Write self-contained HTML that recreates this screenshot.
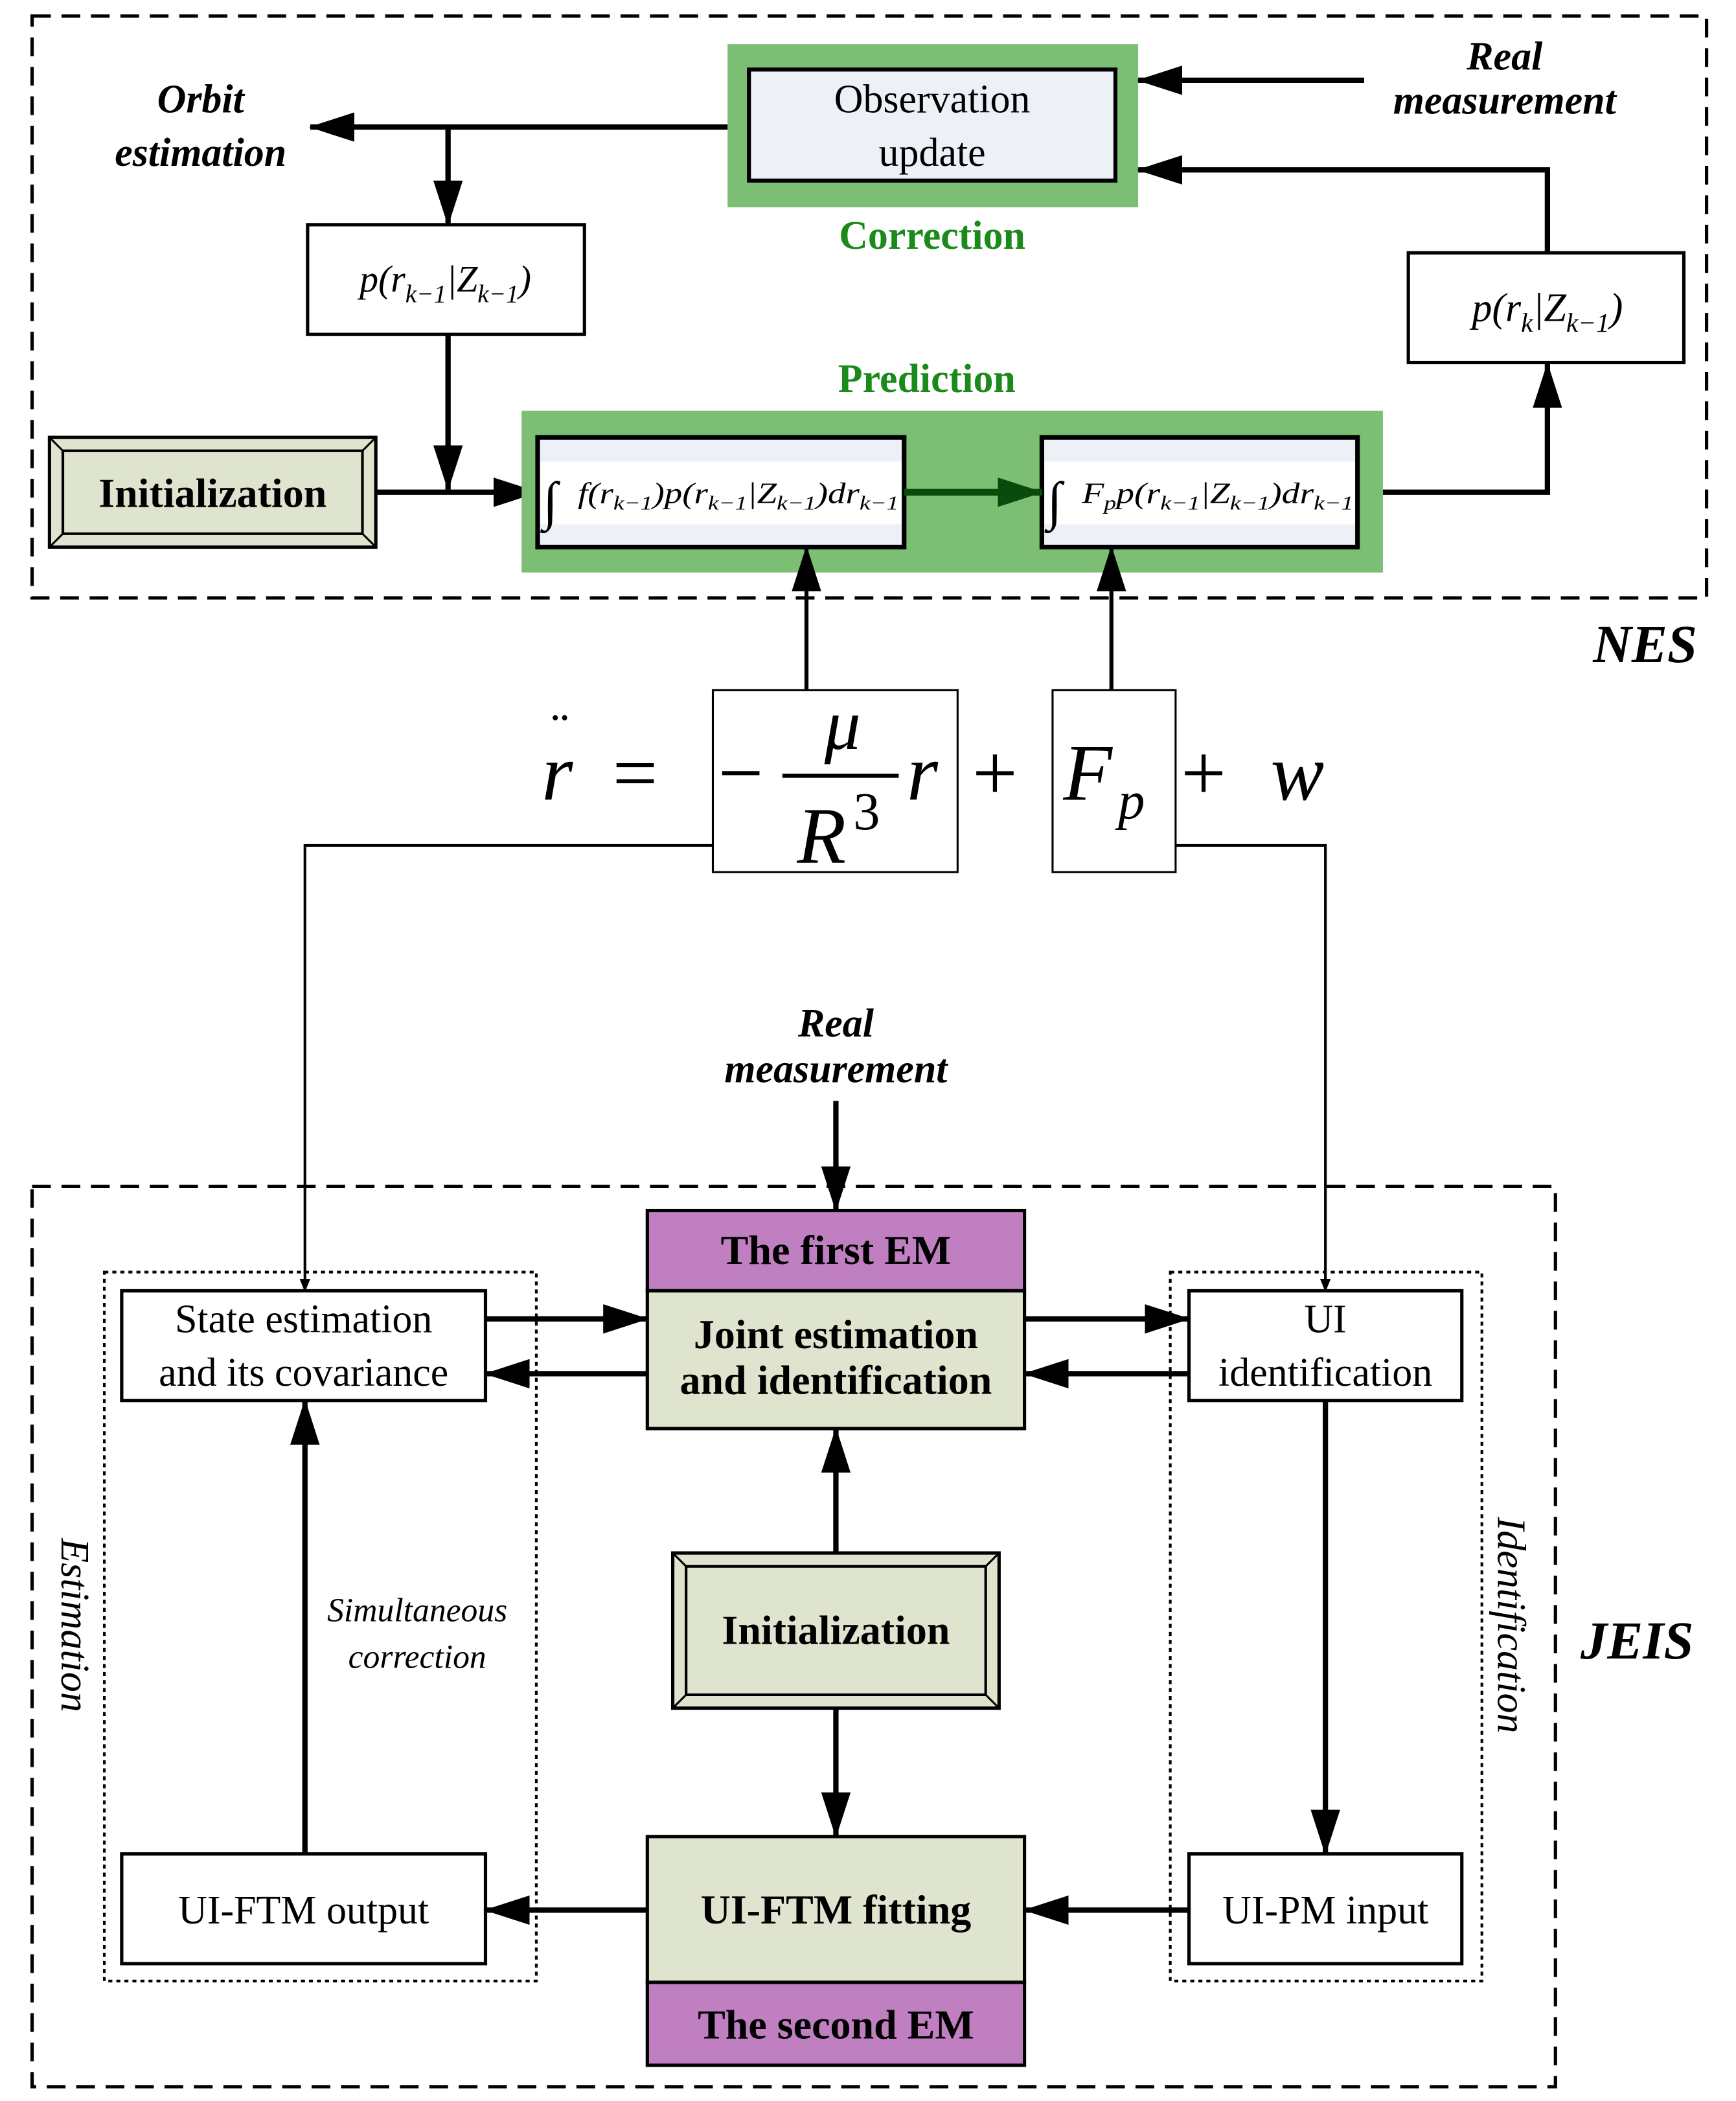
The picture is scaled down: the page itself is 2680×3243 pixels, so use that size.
<!DOCTYPE html>
<html><head><meta charset="utf-8"><style>
html,body{margin:0;padding:0;background:#fff}
svg{display:block}
text{font-family:"Liberation Serif",serif}
</style></head><body>
<svg width="2680" height="3243" viewBox="0 0 1298 1570.7" preserveAspectRatio="none" xmlns="http://www.w3.org/2000/svg">
<defs>
<marker id="a" markerWidth="10" markerHeight="8" refX="9" refY="4" orient="auto" markerUnits="userSpaceOnUse" viewBox="0 0 10 8"><path d="M0,0L10,4L0,8z" fill="#000"/></marker>
<marker id="A" markerWidth="34" markerHeight="22" refX="33" refY="11" orient="auto" markerUnits="userSpaceOnUse"><path d="M0,0L34,11L0,22z" fill="#000"/></marker>
<marker id="G" markerWidth="34" markerHeight="22" refX="33" refY="11" orient="auto" markerUnits="userSpaceOnUse"><path d="M0,0L34,11L0,22z" fill="#0a4a0a"/></marker>
</defs>
<rect width="1298" height="1571" fill="#fff"/>
<!-- NES -->
<rect x="24" y="12" width="1252" height="435" fill="none" stroke="#000" stroke-width="2.5" stroke-dasharray="14,8"/>
<rect x="544" y="33" width="307" height="122" fill="#7cbf74"/>
<rect x="560" y="52" width="274" height="83" fill="#eef0f8" stroke="#000" stroke-width="3"/>
<text x="697" y="84" font-size="30" text-anchor="middle">Observation</text>
<text x="697" y="124" font-size="30" text-anchor="middle">update</text>
<text x="697" y="186" font-size="30" font-weight="bold" fill="#1a8a1a" text-anchor="middle">Correction</text>
<text x="150" y="84" font-size="30" font-weight="bold" font-style="italic" text-anchor="middle">Orbit</text>
<text x="150" y="124" font-size="30" font-weight="bold" font-style="italic" text-anchor="middle">estimation</text>
<text x="1125" y="52" font-size="30" font-weight="bold" font-style="italic" text-anchor="middle">Real</text>
<text x="1125" y="85" font-size="30" font-weight="bold" font-style="italic" text-anchor="middle">measurement</text>
<g stroke="#000" stroke-width="4" fill="none">
<line x1="544" y1="95" x2="232" y2="95" marker-end="url(#A)"/>
<line x1="335" y1="95" x2="335" y2="168" marker-end="url(#A)"/>
<line x1="335" y1="250" x2="335" y2="366" marker-end="url(#A)"/>
<line x1="281" y1="368" x2="402" y2="368" marker-end="url(#A)"/>
<line x1="1020" y1="60" x2="851" y2="60" marker-end="url(#A)"/>
<polyline points="1157,189 1157,127 851,127" marker-end="url(#A)"/>
<polyline points="1034,368 1157,368 1157,272" marker-end="url(#A)"/>
</g>
<rect x="230" y="168" width="207" height="82" fill="#fff" stroke="#000" stroke-width="2.5"/>
<text x="333" y="218" font-size="28" font-style="italic" text-anchor="middle">p(r<tspan font-size="19" dy="8">k−1</tspan><tspan dy="-8">|Z</tspan><tspan font-size="19" dy="8">k−1</tspan><tspan dy="-8">)</tspan></text>
<rect x="1053" y="189" width="206" height="82" fill="#fff" stroke="#000" stroke-width="2.5"/>
<text x="1157" y="240" font-size="30" font-style="italic" text-anchor="middle">p(r<tspan font-size="20" dy="8">k</tspan><tspan dy="-8">|Z</tspan><tspan font-size="20" dy="8">k−1</tspan><tspan dy="-8">)</tspan></text>
<!-- init bevel -->
<rect x="37" y="327" width="244" height="82" fill="#dfe4cf" stroke="#000" stroke-width="2.5"/>
<rect x="47" y="337" width="224" height="62" fill="#dfe4cf" stroke="#000" stroke-width="2"/>
<g stroke="#000" stroke-width="1.5"><line x1="37" y1="327" x2="47" y2="337"/><line x1="281" y1="327" x2="271" y2="337"/><line x1="37" y1="409" x2="47" y2="399"/><line x1="281" y1="409" x2="271" y2="399"/></g>
<text x="159" y="379" font-size="31" font-weight="bold" text-anchor="middle">Initialization</text>
<text x="693" y="293" font-size="30" font-weight="bold" fill="#1a8a1a" text-anchor="middle">Prediction</text>
<rect x="390" y="307" width="644" height="121" fill="#7cbf74"/>
<rect x="402" y="327" width="274" height="82" fill="#eef0f8" stroke="#000" stroke-width="3.5"/>
<rect x="404" y="345" width="270" height="47" fill="#fff"/>
<rect x="779" y="327" width="236" height="82" fill="#eef0f8" stroke="#000" stroke-width="3.5"/>
<rect x="781" y="345" width="232" height="47" fill="#fff"/>
<text x="406" y="388" font-size="40" font-style="italic">∫</text>
<text x="432" y="376" font-size="22" font-style="italic" textLength="240" lengthAdjust="spacingAndGlyphs">f(r<tspan font-size="15" dy="5">k−1</tspan><tspan dy="-5">)p(r</tspan><tspan font-size="15" dy="5">k−1</tspan><tspan dy="-5">|Z</tspan><tspan font-size="15" dy="5">k−1</tspan><tspan dy="-5">)dr</tspan><tspan font-size="15" dy="5">k−1</tspan></text>
<text x="783" y="388" font-size="40" font-style="italic">∫</text>
<text x="809" y="376" font-size="22" font-style="italic" textLength="203" lengthAdjust="spacingAndGlyphs">F<tspan font-size="15" dy="5">p</tspan><tspan dy="-5">p(r</tspan><tspan font-size="15" dy="5">k−1</tspan><tspan dy="-5">|Z</tspan><tspan font-size="15" dy="5">k−1</tspan><tspan dy="-5">)dr</tspan><tspan font-size="15" dy="5">k−1</tspan></text>
<line x1="676" y1="368" x2="779" y2="368" stroke="#0a4a0a" stroke-width="5" marker-end="url(#G)"/>
<text x="1230" y="495" font-size="40" font-weight="bold" font-style="italic" text-anchor="middle">NES</text>
<!-- equation -->
<g stroke="#000" stroke-width="3" fill="none">
<line x1="603" y1="516" x2="603" y2="409" marker-end="url(#A)"/>
<line x1="831" y1="516" x2="831" y2="409" marker-end="url(#A)"/>
</g>
<rect x="533" y="516" width="183" height="136" fill="none" stroke="#000" stroke-width="1.5"/>
<rect x="787" y="516" width="92" height="136" fill="none" stroke="#000" stroke-width="1.5"/>
<text x="405" y="598" font-size="60" font-style="italic">r</text>
<text x="412" y="560" font-size="40">¨</text>
<text x="458" y="598" font-size="60">=</text>
<text x="537" y="598" font-size="60">−</text>
<text x="630" y="560" font-size="54" font-style="italic" text-anchor="middle">μ</text>
<line x1="585" y1="580" x2="672" y2="580" stroke="#000" stroke-width="3"/>
<text x="596" y="645" font-size="60" font-style="italic">R</text>
<text x="638" y="620" font-size="40">3</text>
<text x="678" y="598" font-size="60" font-style="italic">r</text>
<text x="727" y="598" font-size="60">+</text>
<text x="795" y="598" font-size="60" font-style="italic">F</text>
<text x="836" y="612" font-size="40" font-style="italic">p</text>
<text x="883" y="598" font-size="60">+</text>
<text x="950" y="598" font-size="60" font-style="italic">w</text>
<g stroke="#000" stroke-width="2" fill="none">
<polyline points="533,632 228,632 228,965" marker-end="url(#a)"/>
<polyline points="879,632 991,632 991,965" marker-end="url(#a)"/>
</g>
<text x="625" y="775" font-size="30" font-weight="bold" font-style="italic" text-anchor="middle">Real</text>
<text x="625" y="809" font-size="30" font-weight="bold" font-style="italic" text-anchor="middle">measurement</text>
<line x1="625" y1="823" x2="625" y2="905" stroke="#000" stroke-width="4" marker-end="url(#A)"/>
<!-- JEIS -->
<rect x="24" y="887" width="1139" height="673" fill="none" stroke="#000" stroke-width="2.5" stroke-dasharray="14,8"/>
<text x="1224" y="1240" font-size="40" font-weight="bold" font-style="italic" text-anchor="middle">JEIS</text>
<rect x="78" y="951" width="323" height="530" fill="none" stroke="#000" stroke-width="2" stroke-dasharray="3,3"/>
<rect x="875" y="951" width="233" height="530" fill="none" stroke="#000" stroke-width="2" stroke-dasharray="3,3"/>
<rect x="91" y="965" width="272" height="82" fill="#fff" stroke="#000" stroke-width="2.5"/>
<text x="227" y="996" font-size="30" text-anchor="middle">State estimation</text>
<text x="227" y="1036" font-size="30" text-anchor="middle">and its covariance</text>
<rect x="889" y="965" width="204" height="82" fill="#fff" stroke="#000" stroke-width="2.5"/>
<text x="991" y="996" font-size="30" text-anchor="middle">UI</text>
<text x="991" y="1036" font-size="30" text-anchor="middle">identification</text>
<rect x="484" y="905" width="282" height="60" fill="#bf7fc0" stroke="#000" stroke-width="2.5"/>
<text x="625" y="945" font-size="31" font-weight="bold" text-anchor="middle">The first EM</text>
<rect x="484" y="965" width="282" height="103" fill="#dfe4cf" stroke="#000" stroke-width="2.5"/>
<text x="625" y="1008" font-size="31" font-weight="bold" text-anchor="middle">Joint estimation</text>
<text x="625" y="1042" font-size="31" font-weight="bold" text-anchor="middle">and identification</text>
<g stroke="#000" stroke-width="4" fill="none">
<line x1="363" y1="986" x2="484" y2="986" marker-end="url(#A)"/>
<line x1="484" y1="1027" x2="363" y2="1027" marker-end="url(#A)"/>
<line x1="766" y1="986" x2="889" y2="986" marker-end="url(#A)"/>
<line x1="889" y1="1027" x2="766" y2="1027" marker-end="url(#A)"/>
<line x1="625" y1="1161" x2="625" y2="1068" marker-end="url(#A)"/>
<line x1="625" y1="1277" x2="625" y2="1373" marker-end="url(#A)"/>
<line x1="484" y1="1428" x2="363" y2="1428" marker-end="url(#A)"/>
<line x1="889" y1="1428" x2="766" y2="1428" marker-end="url(#A)"/>
<line x1="228" y1="1386" x2="228" y2="1047" marker-end="url(#A)"/>
<line x1="991" y1="1047" x2="991" y2="1386" marker-end="url(#A)"/>
</g>
<rect x="503" y="1161" width="244" height="116" fill="#dfe4cf" stroke="#000" stroke-width="2.5"/>
<rect x="513" y="1171" width="224" height="96" fill="#dfe4cf" stroke="#000" stroke-width="2"/>
<g stroke="#000" stroke-width="1.5"><line x1="503" y1="1161" x2="513" y2="1171"/><line x1="747" y1="1161" x2="737" y2="1171"/><line x1="503" y1="1277" x2="513" y2="1267"/><line x1="747" y1="1277" x2="737" y2="1267"/></g>
<text x="625" y="1229" font-size="31" font-weight="bold" text-anchor="middle">Initialization</text>
<rect x="484" y="1373" width="282" height="109" fill="#dfe4cf" stroke="#000" stroke-width="2.5"/>
<text x="625" y="1438" font-size="31" font-weight="bold" text-anchor="middle">UI-FTM fitting</text>
<rect x="484" y="1482" width="282" height="62" fill="#bf7fc0" stroke="#000" stroke-width="2.5"/>
<text x="625" y="1524" font-size="31" font-weight="bold" text-anchor="middle">The second EM</text>
<rect x="91" y="1386" width="272" height="82" fill="#fff" stroke="#000" stroke-width="2.5"/>
<text x="227" y="1438" font-size="30" text-anchor="middle">UI-FTM output</text>
<rect x="889" y="1386" width="204" height="82" fill="#fff" stroke="#000" stroke-width="2.5"/>
<text x="991" y="1438" font-size="30" text-anchor="middle">UI-PM input</text>
<text x="312" y="1212" font-size="25" font-style="italic" text-anchor="middle">Simultaneous</text>
<text x="312" y="1247" font-size="25" font-style="italic" text-anchor="middle">correction</text>
<text transform="translate(46,1215) rotate(90)" font-size="30" font-style="italic" text-anchor="middle">Estimation</text>
<text transform="translate(1120,1215) rotate(90)" font-size="30" font-style="italic" text-anchor="middle">Identification</text>
</svg>
</body></html>
